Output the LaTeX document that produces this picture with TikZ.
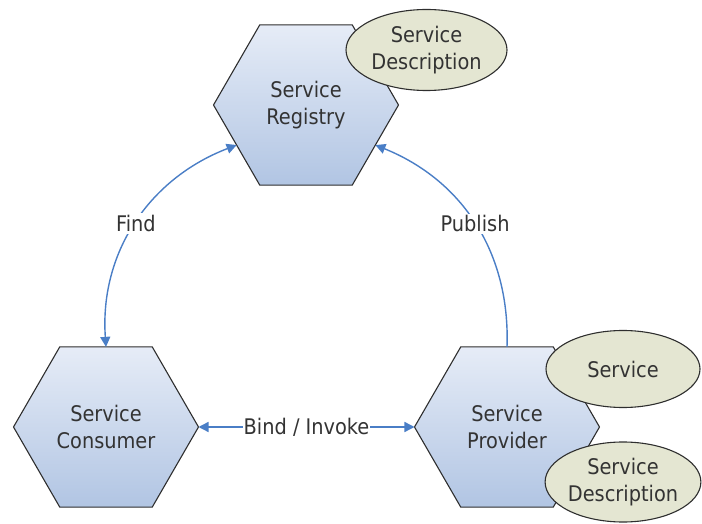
\documentclass[tikz,border=0pt]{standalone}
\usepackage{fontspec}
\setmainfont{DejaVu Sans Condensed}
\usetikzlibrary{shapes.geometric,arrows.meta}
\definecolor{hextop}{HTML}{E6ECF7}
\definecolor{hexbot}{HTML}{B1C5E3}
\definecolor{ovalfill}{HTML}{E4E6D2}
\definecolor{edgegray}{HTML}{2E2E2E}
\definecolor{txtgray}{HTML}{333333}
\definecolor{linkblue}{HTML}{4A7EC6}
\tikzset{
  labelfont/.style={font=\fontsize{21.5}{27.5}\selectfont},
  hexnode/.style={regular polygon, regular polygon sides=6, minimum size=185pt,
    inner sep=0pt, outer sep=0pt, draw=edgegray, line width=1.1pt,
    top color=hextop, bottom color=hexbot, text=txtgray, align=center,
    labelfont},
  ovalnode/.style={ellipse, inner sep=0pt, outer sep=0pt, draw=edgegray,
    line width=1.1pt, fill=ovalfill, text=txtgray, align=center, labelfont},
  link/.style={draw=linkblue, line width=1.4pt, ->},
  twoway/.style={draw=linkblue, line width=1.4pt, <->},
  linklabel/.style={fill=white, inner sep=2pt, text=txtgray, labelfont}
}
\begin{document}
\begin{tikzpicture}[x=1pt,y=1pt,>={Triangle[length=10pt,width=10pt]}]
  \useasboundingbox (0,0) rectangle (702,523);
  % the three hexagonal roles
  \node[hexnode] (reg)  at (306,418) {Service\\Registry};
  \node[hexnode] (con)  at (106,96)  {Service\\Consumer};
  \node[hexnode] (prov) at (507,96)  {Service\\Provider};
  % artefacts attached to the roles
  \node[ovalnode, minimum width=161pt, minimum height=81pt] (regdesc)
    at (426.5,473) {Service\\Description};
  \node[ovalnode, minimum width=154pt, minimum height=77pt] (svc)
    at (623,154) {Service};
  \node[ovalnode, minimum width=154pt, minimum height=80pt] (provdesc)
    at (623,41) {Service\\Description};
  % interactions
  \draw[twoway]
    (reg.210) to[out=201, in=94, looseness=1.0]
    node[linklabel, pos=0.5] {Find} (con.north);
  \draw[link]
    (prov.north) to[out=88, in=-22, looseness=1.0]
    node[linklabel, pos=0.5] {Publish} (reg.330);
  \draw[twoway]
    (con.east) -- node[linklabel, inner sep=1pt] {Bind / Invoke} (prov.west);
\end{tikzpicture}
\end{document}
